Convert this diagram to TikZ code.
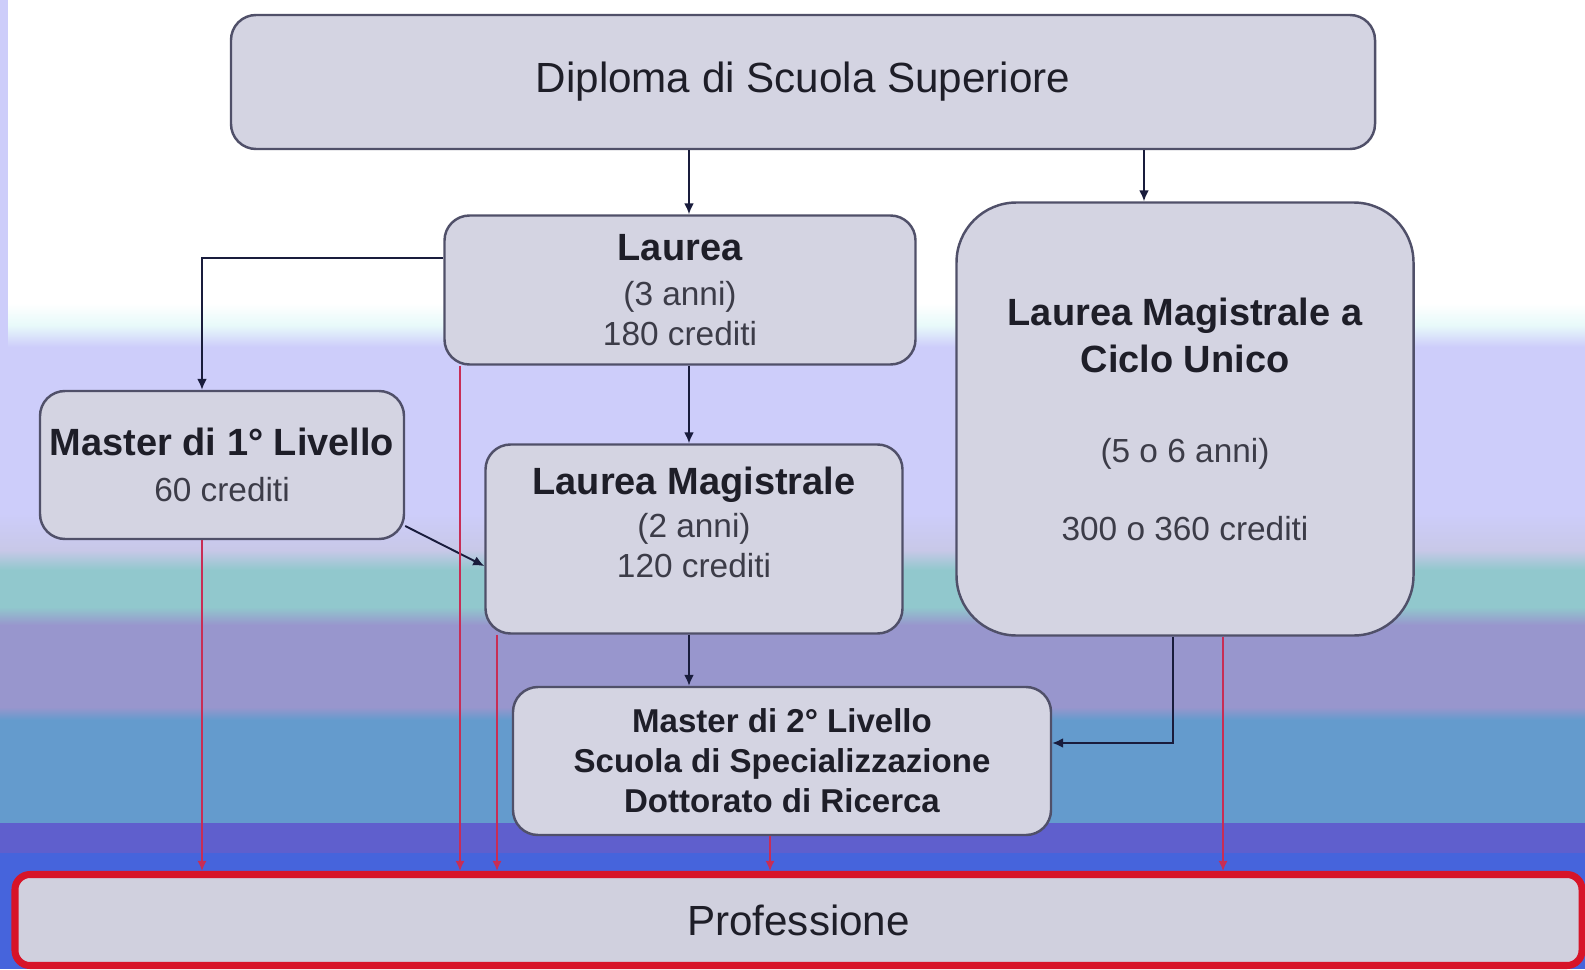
\documentclass[tikz,border=0pt]{standalone}
\usepackage{fontspec}
\setmainfont{Liberation Sans}
\usetikzlibrary{arrows.meta}

\definecolor{boxfill}{RGB}{212,212,226}
\definecolor{boxline}{RGB}{80,80,105}
\definecolor{arrline}{RGB}{25,28,60}
\definecolor{redline}{RGB}{200,45,85}
\definecolor{profred}{RGB}{215,20,40}
\definecolor{proffill}{RGB}{208,208,222}
\definecolor{txtdark}{RGB}{30,30,40}
\definecolor{txtgray}{RGB}{60,60,72}
\definecolor{bglav}{RGB}{205,205,250}
\definecolor{bgcyan}{RGB}{232,250,250}
\definecolor{bggray}{RGB}{200,200,232}
\definecolor{bgteal}{RGB}{145,200,205}
\definecolor{bgpurp}{RGB}{152,150,205}
\definecolor{bgblue}{RGB}{100,155,205}
\definecolor{bgviol}{RGB}{95,95,205}
\definecolor{bgdeep}{RGB}{70,100,220}

\newcommand{\tbig}{\fontsize{12}{14}\selectfont}
\newcommand{\ttit}{\fontsize{10.8}{12.9}\selectfont\bfseries}
\newcommand{\tsm}{\fontsize{9.5}{11.5}\selectfont\color{txtgray}}

\tikzset{
  box/.style={draw=boxline, line width=0.7pt, fill=boxfill, rounded corners=2.5mm,
    inner sep=0pt, align=center, text=txtdark, font=\fontsize{9.5}{11.5}\selectfont},
  arr/.style={draw=arrline, line width=0.55pt, -{Latex[length=1.1mm,width=1mm]}},
  redarr/.style={draw=redline, line width=0.45pt, -{Latex[length=1mm,width=0.9mm]}},
}

\begin{document}
\begin{tikzpicture}
\useasboundingbox (0,0) rectangle (15.85,9.69);
% sfondo a bande
\fill[white] (0,0) rectangle (15.85,9.69);
\shade[top color=white, bottom color=bglav, middle color=bgcyan] (0,6.22) rectangle (15.85,6.66);
\fill[bglav] (0,4.56) rectangle (15.85,6.22);
\fill[bglav] (0,6.22) rectangle (0.08,9.69);
\shade[top color=bglav, bottom color=bggray] (0,4.19) rectangle (15.85,4.56);
\shade[top color=bggray, bottom color=bgteal] (0,3.99) rectangle (15.85,4.19);
\fill[bgteal] (0,3.62) rectangle (15.85,3.99);
\shade[top color=bgteal, bottom color=bgpurp] (0,3.44) rectangle (15.85,3.62);
\fill[bgpurp] (0,2.62) rectangle (15.85,3.44);
\shade[top color=bgpurp, bottom color=bgblue] (0,2.49) rectangle (15.85,2.62);
\fill[bgblue] (0,1.46) rectangle (15.85,2.49);
\fill[bgviol] (0,1.16) rectangle (15.85,1.46);
\fill[bgdeep] (0,0) rectangle (15.85,1.16);

\node[box, minimum width=11.44cm, minimum height=1.34cm, font=\tbig] (dip) at (8.03,8.87) {Diploma di Scuola Superiore};
\node[box, minimum width=4.71cm, minimum height=1.49cm] (lau) at (6.80,6.79)
  {{\ttit Laurea}\\[1.4pt]{\tsm (3 anni)}\\{\tsm 180 crediti}};
\node[box, rounded corners=6mm, minimum width=4.57cm, minimum height=4.33cm] (lmcu) at (11.85,5.50)
  {{\ttit Laurea Magistrale a}\\[1.9pt]{\ttit Ciclo Unico}\\[14.1pt]{\tsm (5 o 6 anni)}\\[10.7pt]{\tsm 300 o 360 crediti}};
\node[box, minimum width=3.64cm, minimum height=1.48cm] (mas1) at (2.22,5.04)
  {{\ttit Master di 1° Livello}\\[1.4pt]{\tsm 60 crediti}};
\node[box, minimum width=4.17cm, minimum height=1.89cm] (lm) at (6.94,4.30)
  {{\ttit Laurea Magistrale}\\[0.6pt]{\tsm (2 anni)}\\{\tsm 120 crediti}\\[-2pt]\mbox{}};
\node[box, minimum width=5.38cm, minimum height=1.48cm, font=\fontsize{9.4}{11.4}\selectfont\bfseries] (mas2) at (7.82,2.08)
  {Master di 2° Livello\\Scuola di Specializzazione\\Dottorato di Ricerca};
\node[box, draw=profred, line width=2pt, rounded corners=1.5mm, fill=proffill,
  minimum width=15.67cm, minimum height=0.91cm, font=\tbig] (prof) at (7.985,0.49) {Professione};

\coordinate (colA) at (6.89,0);
\coordinate (colB) at (11.44,0);
\coordinate (colC) at (11.73,0);
\coordinate (colM) at (2.02,0);

\draw[arr] (dip.south -| colA) -- (lau.north -| colA);
\draw[arr] (dip.south -| colB) -- (lmcu.north -| colB);
\draw[arr] ([yshift=3.2mm]lau.west) -| (mas1.north -| colM);
\draw[arr] (lau.south -| colA) -- (lm.north -| colA);
\draw[arr] ([yshift=-6.1mm]mas1.east) -- ([yshift=-2.7mm]lm.west);
\draw[arr] (lm.south -| colA) -- (mas2.north -| colA);
\draw[arr] (lmcu.south -| colC) |- ([yshift=1.8mm]mas2.east);

\foreach \src/\xx in {mas1/2.02, lau/4.60, lm/4.97, mas2/7.70, lmcu/12.23}{
  \coordinate (rx) at (\xx,0);
  \draw[redarr] (\src.south -| rx) -- (prof.north -| rx);
}
\end{tikzpicture}
\end{document}
